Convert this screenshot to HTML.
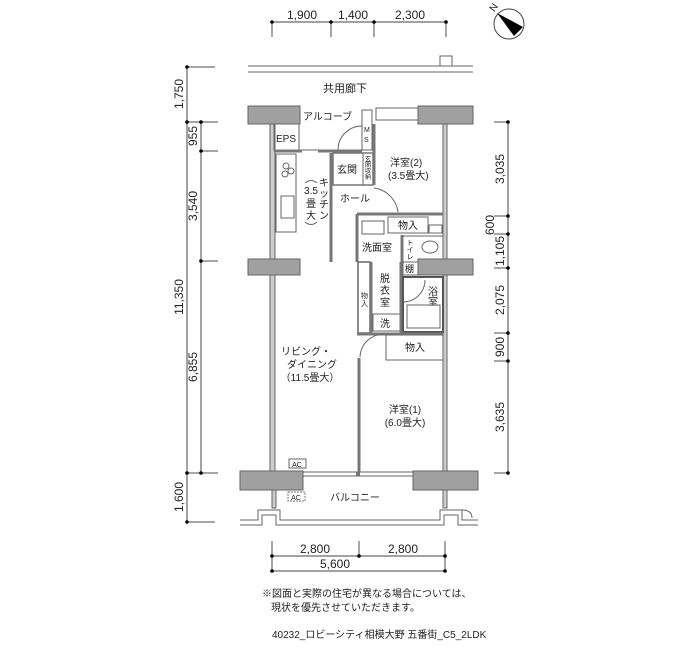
<!DOCTYPE html>
<html><head><meta charset="utf-8"><style>
html,body{margin:0;padding:0;background:#fff}
svg{display:block}
text{font-family:"Liberation Sans","Noto Sans CJK JP",sans-serif;fill:#222}
.w{fill:#a0a0a0;stroke:#666;stroke-width:1}
.l{stroke:#666;stroke-width:1;fill:none}
.t{stroke:#777;stroke-width:3;fill:none}
.d{stroke:#444;stroke-width:1;fill:none}
.ext{stroke:#888;stroke-width:1.5}
</style></head><body>
<svg width="700" height="650" viewBox="0 0 700 650" xmlns="http://www.w3.org/2000/svg">
<line class="d" x1="272" y1="22" x2="446" y2="22"/>
<g class="ext"><line x1="272" y1="22" x2="272" y2="37"/><line x1="331" y1="22" x2="331" y2="37"/><line x1="374" y1="22" x2="374" y2="37"/><line x1="446" y1="22" x2="446" y2="37"/></g>
<g fill="#000"><circle cx="272" cy="22" r="1.8"/><circle cx="331" cy="22" r="1.8"/><circle cx="374" cy="22" r="1.8"/><circle cx="446" cy="22" r="1.8"/></g>
<g font-size="12" text-anchor="middle"><text x="302" y="19">1,900</text><text x="353" y="19">1,400</text><text x="410" y="19">2,300</text></g>
<circle cx="509" cy="24" r="15" fill="none" stroke="#444"/>
<polygon points="497,13 523,27 514,36" fill="#000"/>
<text x="491" y="14" font-size="10" transform="rotate(-55 491 10)">N</text>
<line class="d" x1="187" y1="67" x2="187" y2="522"/>
<line class="d" x1="201" y1="122" x2="201" y2="473"/>
<g class="ext"><line x1="187" y1="67" x2="215" y2="67"/><line x1="187" y1="122" x2="218" y2="122"/><line x1="201" y1="151" x2="218" y2="151"/><line x1="201" y1="261" x2="218" y2="261"/><line x1="187" y1="473" x2="218" y2="473"/><line x1="187" y1="522" x2="215" y2="522"/></g>
<g fill="#000"><circle cx="187" cy="67" r="1.8"/><circle cx="187" cy="122" r="1.8"/><circle cx="201" cy="122" r="1.8"/><circle cx="201" cy="151" r="1.8"/><circle cx="201" cy="261" r="1.8"/><circle cx="187" cy="473" r="1.8"/><circle cx="201" cy="473" r="1.8"/><circle cx="187" cy="522" r="1.8"/></g>
<g font-size="12" text-anchor="middle">
<text transform="translate(183,94) rotate(-90)">1,750</text>
<text transform="translate(183,297) rotate(-90)">11,350</text>
<text transform="translate(183,497) rotate(-90)">1,600</text>
<text transform="translate(197,136) rotate(-90)">955</text>
<text transform="translate(197,206) rotate(-90)">3,540</text>
<text transform="translate(197,367) rotate(-90)">6,855</text>
</g>
<line class="d" x1="508" y1="122" x2="508" y2="473"/>
<g class="ext"><line x1="494" y1="122" x2="508" y2="122"/><line x1="494" y1="216" x2="508" y2="216"/><line x1="494" y1="234" x2="508" y2="234"/><line x1="494" y1="268" x2="508" y2="268"/><line x1="494" y1="333" x2="508" y2="333"/><line x1="494" y1="361" x2="508" y2="361"/><line x1="494" y1="473" x2="508" y2="473"/></g>
<g fill="#000"><circle cx="508" cy="122" r="1.8"/><circle cx="508" cy="216" r="1.8"/><circle cx="508" cy="234" r="1.8"/><circle cx="508" cy="268" r="1.8"/><circle cx="508" cy="333" r="1.8"/><circle cx="508" cy="361" r="1.8"/><circle cx="508" cy="473" r="1.8"/></g>
<g font-size="12" text-anchor="middle">
<text transform="translate(504,169) rotate(-90)">3,035</text>
<text transform="translate(494,225) rotate(-90)">600</text>
<text transform="translate(504,251) rotate(-90)">1,105</text>
<text transform="translate(504,300) rotate(-90)">2,075</text>
<text transform="translate(504,347) rotate(-90)">900</text>
<text transform="translate(504,417) rotate(-90)">3,635</text>
</g>
<line class="l" x1="248" y1="66" x2="473" y2="66"/>
<line class="l" x1="248" y1="72" x2="473" y2="72"/>
<rect x="440" y="56" width="12" height="10" fill="#fff" stroke="#666"/>
<text x="345" y="92" font-size="11" text-anchor="middle">共用廊下</text>
<rect class="w" x="248" y="106" width="52" height="18"/>
<rect class="w" x="418" y="106" width="55" height="18"/>
<rect class="l" x="376" y="108" width="42" height="12" fill="#ddd"/>
<rect class="w" x="248" y="259" width="52" height="16"/>
<rect class="w" x="418" y="259" width="55" height="16"/>
<rect class="w" x="240" y="471" width="63" height="19"/>
<rect class="w" x="413" y="471" width="65" height="19"/>
<rect x="270" y="124" width="5" height="135" fill="#ccc" stroke="#666"/>
<rect x="270" y="275" width="5" height="196" fill="#ccc" stroke="#666"/>
<rect x="443" y="124" width="4" height="135" fill="#ccc" stroke="#666"/>
<rect x="443" y="275" width="4" height="196" fill="#ccc" stroke="#666"/>
<line class="l" x1="303" y1="472" x2="413" y2="472"/><line class="l" x1="303" y1="476" x2="413" y2="476"/>
<line class="t" x1="356" y1="474" x2="360" y2="474"/>
<rect x="272" y="490" width="4" height="18" fill="#ccc" stroke="#666"/>
<rect x="443" y="490" width="4" height="18" fill="#ccc" stroke="#666"/>
<path class="l" d="M240 520 H258 V510 H280 V520 H440 V510 H462 V520 H478"/>
<path class="l" d="M240 525 H262 V515 H276 V525 H444 V515 H458 V525 H478"/>
<path class="l" d="M462 510 q10 0 10 8"/>
<text x="355" y="501" font-size="10" text-anchor="middle">バルコニー</text>
<rect x="288" y="492" width="17" height="9" fill="none" stroke="#777" stroke-dasharray="2,1"/>
<text x="296" y="500" font-size="7" text-anchor="middle">AC</text>
<rect x="289" y="459" width="17" height="9" fill="none" stroke="#666"/>
<text x="297" y="467" font-size="7" text-anchor="middle">AC</text>
<rect x="274" y="124" width="25" height="26" fill="none" stroke="#666"/>
<text x="276" y="142" font-size="10">EPS</text>
<line class="t" x1="274" y1="151" x2="302" y2="151"/><line class="t" x1="318" y1="151" x2="362" y2="151"/>
<line class="l" x1="302" y1="150" x2="318" y2="150"/>
<text x="303" y="120" font-size="10">アルコーブ</text>
<rect x="362" y="110" width="10" height="40" fill="#fff" stroke="#666"/>
<text x="364" y="132" font-size="7">M</text><text x="364" y="142" font-size="7">S</text>
<path class="l" d="M338 150 A24 24 0 0 1 362 126"/>
<line class="t" x1="374" y1="124" x2="374" y2="185"/>
<rect x="276" y="154" width="20" height="78" fill="none" stroke="#666"/>
<circle cx="286" cy="166" r="3" fill="none" stroke="#666"/><circle cx="291" cy="171" r="3" fill="none" stroke="#666"/><circle cx="285" cy="174" r="3" fill="none" stroke="#666"/>
<rect x="281" y="196" width="13" height="22" fill="none" stroke="#666"/>
<path class="l" d="M305 183 q6 -5 12 0"/>
<text x="311" y="194" font-size="10" text-anchor="middle">3.5</text>
<text x="311" y="207" font-size="10" text-anchor="middle">畳</text>
<text x="311" y="219" font-size="10" text-anchor="middle">大</text>
<path class="l" d="M305 222 q6 5 12 0"/>
<g font-size="10" text-anchor="middle"><text x="324" y="186">キ</text><text x="324" y="197">ッ</text><text x="324" y="208">チ</text><text x="324" y="219">ン</text></g>
<line class="t" x1="331" y1="153" x2="331" y2="262"/>
<rect x="333" y="153" width="40" height="32" fill="none" stroke="#777" stroke-width="1.5"/>
<line class="l" x1="363" y1="153" x2="363" y2="185"/>
<text x="337" y="173" font-size="10">玄関</text>
<g font-size="6" text-anchor="middle"><text x="368" y="161">玄</text><text x="368" y="167">関</text><text x="368" y="173">収</text><text x="368" y="179">納</text></g>
<text x="340" y="202" font-size="10">ホール</text>
<path class="l" d="M374 188 A28 28 0 0 1 398 212"/>
<text x="390" y="166" font-size="10">洋室(2)</text>
<text x="388" y="179" font-size="10">(3.5畳大)</text>
<line class="t" x1="357" y1="214" x2="443" y2="214"/>
<line class="t" x1="357" y1="214" x2="357" y2="262"/>
<rect x="388" y="217" width="40" height="16" fill="none" stroke="#666"/>
<text x="398" y="229" font-size="10">物入</text>
<rect x="429" y="225" width="13" height="8" fill="none" stroke="#666"/>
<rect x="362" y="221" width="22" height="13" fill="none" stroke="#666"/>
<text x="362" y="251" font-size="10">洗面室</text>
<line class="t" x1="402" y1="235" x2="402" y2="277"/>
<line class="l" x1="402" y1="236" x2="443" y2="236"/>
<g font-size="7" text-anchor="middle"><text x="410" y="245">ト</text><text x="410" y="252">イ</text><text x="410" y="259">レ</text></g>
<ellipse cx="430" cy="247" rx="8" ry="6" fill="none" stroke="#666"/>
<rect x="403" y="262" width="15" height="13" fill="none" stroke="#666"/>
<text x="405" y="272" font-size="9">棚</text>
<rect x="358" y="262" width="12" height="71" fill="none" stroke="#666" stroke-width="1.5"/>
<text x="361" y="298" font-size="7">物</text><text x="361" y="306" font-size="7">入</text>
<line class="t" x1="371" y1="262" x2="371" y2="333"/>
<text x="380" y="282" font-size="10">脱</text><text x="380" y="294" font-size="10">衣</text><text x="380" y="306" font-size="10">室</text>
<rect x="373" y="314" width="27" height="17" fill="none" stroke="#666"/>
<text x="380" y="327" font-size="10">洗</text>
<line class="t" x1="401" y1="262" x2="401" y2="333"/>
<rect x="403" y="277" width="40" height="55" fill="none" stroke="#555" stroke-width="2"/>
<rect x="407" y="305" width="33" height="23" fill="none" stroke="#666"/>
<text x="428" y="295" font-size="10">浴</text><text x="428" y="305" font-size="10">室</text>
<path class="l" d="M403 302 A22 22 0 0 0 425 280"/>
<line class="t" x1="357" y1="334" x2="443" y2="334"/>
<rect x="386" y="335" width="57" height="25" fill="none" stroke="#666"/>
<text x="405" y="351" font-size="10">物入</text>
<path class="l" d="M360 357 A24 24 0 0 1 384 334"/>
<line class="t" x1="359" y1="358" x2="359" y2="472"/>
<text x="306" y="355" font-size="10" text-anchor="middle">リビング・</text>
<text x="312" y="368" font-size="10" text-anchor="middle">ダイニング</text>
<text x="310" y="381" font-size="10" text-anchor="middle">（11.5畳大）</text>
<text x="405" y="413" font-size="10" text-anchor="middle">洋室(1)</text>
<text x="405" y="426" font-size="10" text-anchor="middle">(6.0畳大)</text>
<line class="d" x1="272" y1="556" x2="445" y2="556"/>
<line class="d" x1="272" y1="571" x2="445" y2="571"/>
<g class="ext"><line x1="272" y1="541" x2="272" y2="571"/><line x1="359" y1="541" x2="359" y2="556"/><line x1="445" y1="541" x2="445" y2="571"/></g>
<g fill="#000"><circle cx="272" cy="556" r="1.8"/><circle cx="359" cy="556" r="1.8"/><circle cx="445" cy="556" r="1.8"/><circle cx="272" cy="571" r="1.8"/><circle cx="445" cy="571" r="1.8"/></g>
<g font-size="12" text-anchor="middle"><text x="315" y="553">2,800</text><text x="403" y="553">2,800</text><text x="335" y="568">5,600</text></g>
<text x="262" y="597" font-size="10">※図面と実際の住宅が異なる場合については、</text>
<text x="271" y="611" font-size="10">現状を優先させていただきます。</text>
<text x="272" y="638" font-size="10">40232_ロビーシティ相模大野 五番街_C5_2LDK</text>
</svg>
</body></html>
